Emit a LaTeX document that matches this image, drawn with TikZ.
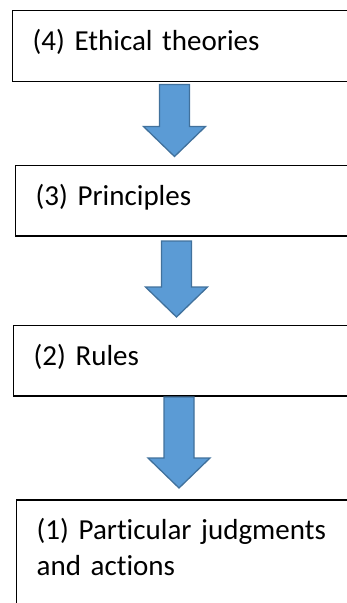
\documentclass[tikz,border=0pt]{standalone}
\usepackage{fontspec}
\setmainfont[Ligatures=NoCommon]{Carlito}
\usepackage{tikz}
\usetikzlibrary{positioning}

\definecolor{arrowfill}{HTML}{5B9BD5}
\definecolor{arrowline}{HTML}{41719C}

% block arrow pointing down: {x centre}{y top}{y tip}
\newcommand{\stagearrow}[3]{%
  \draw [blockarrow] (#1pt-15pt,-#2pt) -- (#1pt+15pt,-#2pt)
    -- (#1pt+15pt,-#3pt+30pt) -- (#1pt+31pt,-#3pt+30pt)
    -- (#1pt,-#3pt) -- (#1pt-31pt,-#3pt+30pt)
    -- (#1pt-15pt,-#3pt+30pt) -- cycle;%
}

\begin{document}
\begin{tikzpicture}[
    node distance=80pt,
    stage/.style={
		rectangle,
		draw=black,
		line width=1.4pt,
		anchor=north west,
		minimum width=360pt,
		text width=320pt,
		align=left,
		inner xsep=19pt,
		inner ysep=0pt,
		text height=40pt,
		text depth=30.5pt,
		font=\fontsize{29}{36}\selectfont
	},
	blockarrow/.style={
		fill=arrowfill,
		draw=arrowline,
		line width=1.3pt,
		line join=miter
	}
  ]
  \useasboundingbox (0,0) rectangle (347pt,-603pt);

    % the four levels, top to bottom
  \node [stage] (stage4) at (12pt,-10pt) {(4) Ethical theories};

  \node [stage, below=83pt of stage4.south west, anchor=north west, xshift=3pt] (stage3)
 {(3) Principles};

  \node [stage, below=88pt of stage3.south west, anchor=north west, xshift=-2pt] (stage2)
 {(2) Rules};

  \node [stage, below=102.5pt of stage2.south west, anchor=north west, xshift=3pt,
    text depth=100pt] (stage1)
 {(1) Particular judgments\\and actions};

    % arrows between the levels
  \stagearrow{174.5}{84.5}{156.5}
  \stagearrow{176.5}{241}{317}
  \stagearrow{179}{397}{488}

\end{tikzpicture}
\end{document}
